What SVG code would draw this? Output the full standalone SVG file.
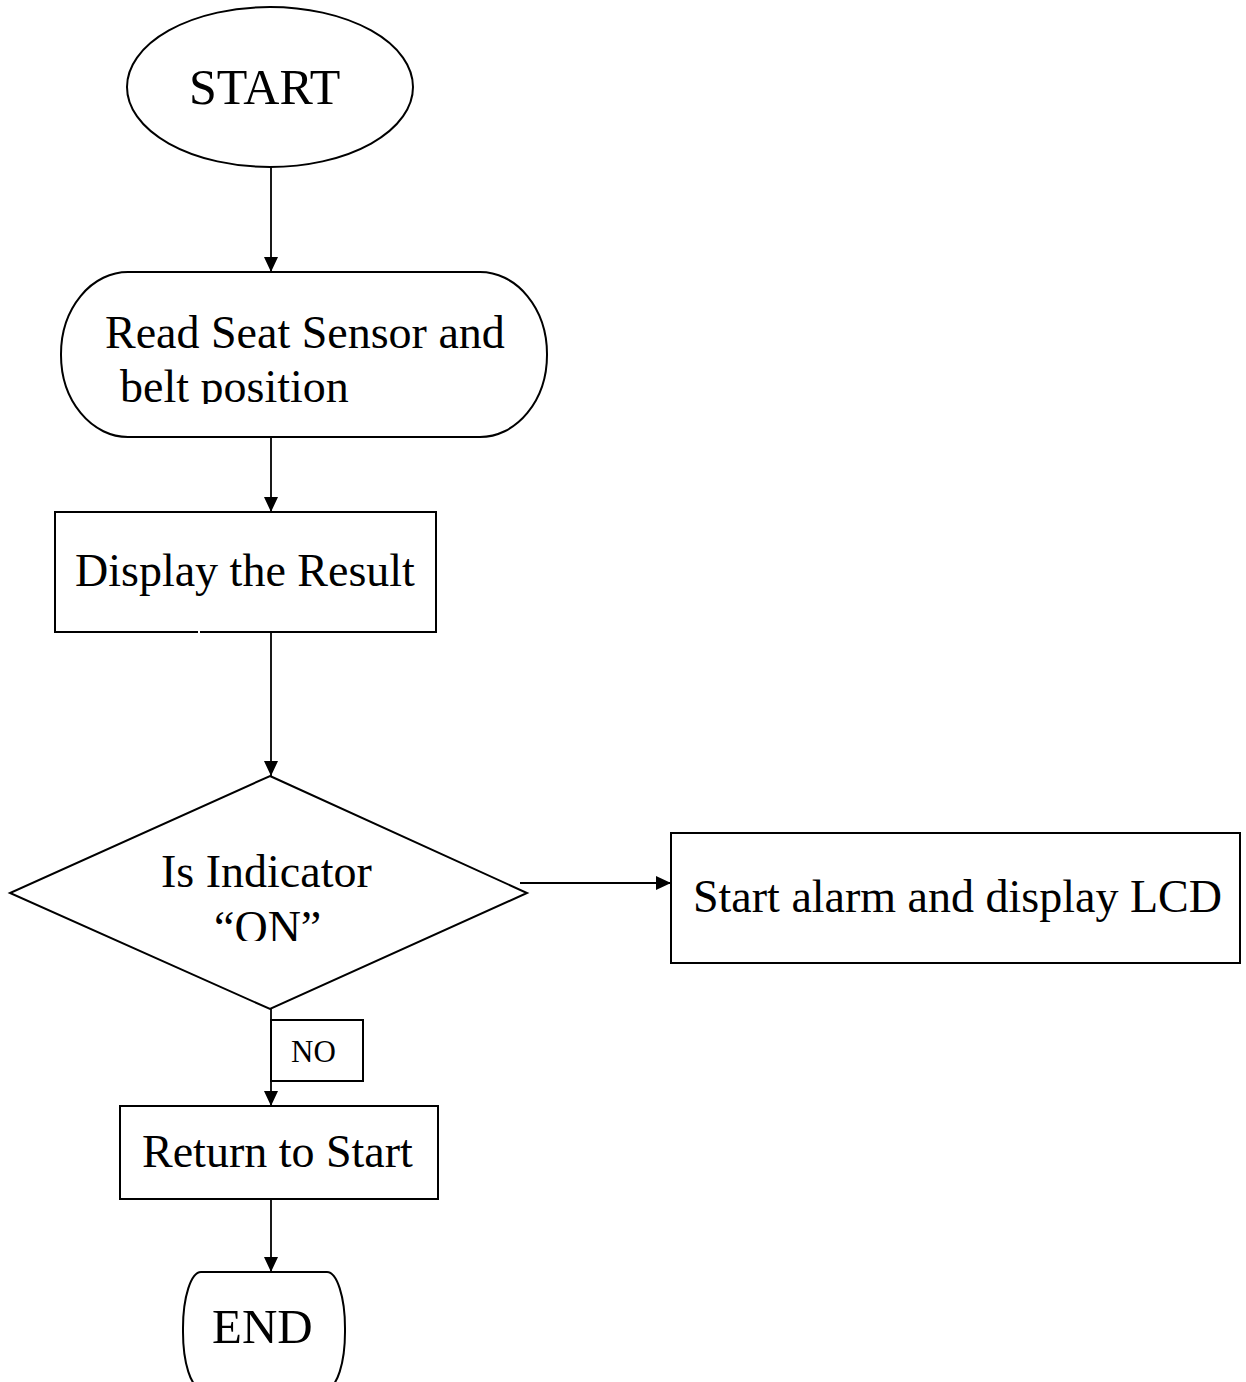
<svg xmlns="http://www.w3.org/2000/svg" width="1246" height="1382" viewBox="0 0 1246 1382">
<style>
.shape{fill:#fff;stroke:#000;stroke-width:2}
.lbl{font-family:"Liberation Serif","Times New Roman",serif;font-size:46px;fill:#000}
.conn{stroke:#000;stroke-width:1.8;fill:none;marker-end:url(#arr)}
</style>
<defs>
<marker id="arr" markerUnits="userSpaceOnUse" markerWidth="16" markerHeight="14" refX="15" refY="7" orient="auto">
<path d="M0,0 L15,7 L0,14 z" fill="#000"/>
</marker>
<clipPath id="clipRead"><rect x="0" y="250" width="600" height="154"/></clipPath>
<clipPath id="clipOn"><rect x="0" y="850" width="600" height="91"/></clipPath>
</defs>
<rect width="1246" height="1382" fill="#fff"/>
<g id="connectors">
<line class="conn" x1="271" y1="167" x2="271" y2="272"/>
<line class="conn" x1="271" y1="437" x2="271" y2="512"/>
<line class="conn" x1="271" y1="632" x2="271" y2="776"/>
<line class="conn" x1="520" y1="883" x2="671" y2="883"/>
<line class="conn" x1="271" y1="1009" x2="271" y2="1106"/>
<line class="conn" x1="271" y1="1199" x2="271" y2="1272"/>
</g>
<g id="start">
<ellipse class="shape" cx="270" cy="87" rx="143" ry="80"/>
<text class="lbl" x="189" y="104" style="font-size:50px">START</text>
</g>
<g id="read">
<rect class="shape" x="61" y="272" width="486" height="165" rx="67" ry="82"/>
<g clip-path="url(#clipRead)">
<text class="lbl" x="105" y="348">Read Seat Sensor and</text>
<text class="lbl" x="120" y="402">belt position</text>
</g>
</g>
<g id="display">
<rect class="shape" x="55" y="512" width="381" height="120"/>
<rect x="198" y="630" width="2" height="4" fill="#fff"/>
<text class="lbl" x="75" y="586">Display the Result</text>
</g>
<g id="decision">
<polygon class="shape" points="270,776 527,893 270,1009 10,893"/>
<text class="lbl" x="161" y="887">Is Indicator</text>
<g clip-path="url(#clipOn)">
<text class="lbl" x="214" y="943">“ON”</text>
</g>
</g>
<g id="alarm">
<rect class="shape" x="671" y="833" width="569" height="130"/>
<text class="lbl" x="693" y="912">Start alarm and display LCD</text>
</g>
<g id="no-label">
<rect class="shape" x="271" y="1020" width="92" height="61"/>
<text class="lbl" x="291" y="1062" style="font-size:31px">NO</text>
</g>
<g id="return">
<rect class="shape" x="120" y="1106" width="318" height="93"/>
<text class="lbl" x="142" y="1167">Return to Start</text>
</g>
<g id="end">
<rect class="shape" x="183" y="1272" width="162" height="116" rx="18" ry="56"/>
<text class="lbl" x="212" y="1343" style="font-size:49px">END</text>
</g>
</svg>
